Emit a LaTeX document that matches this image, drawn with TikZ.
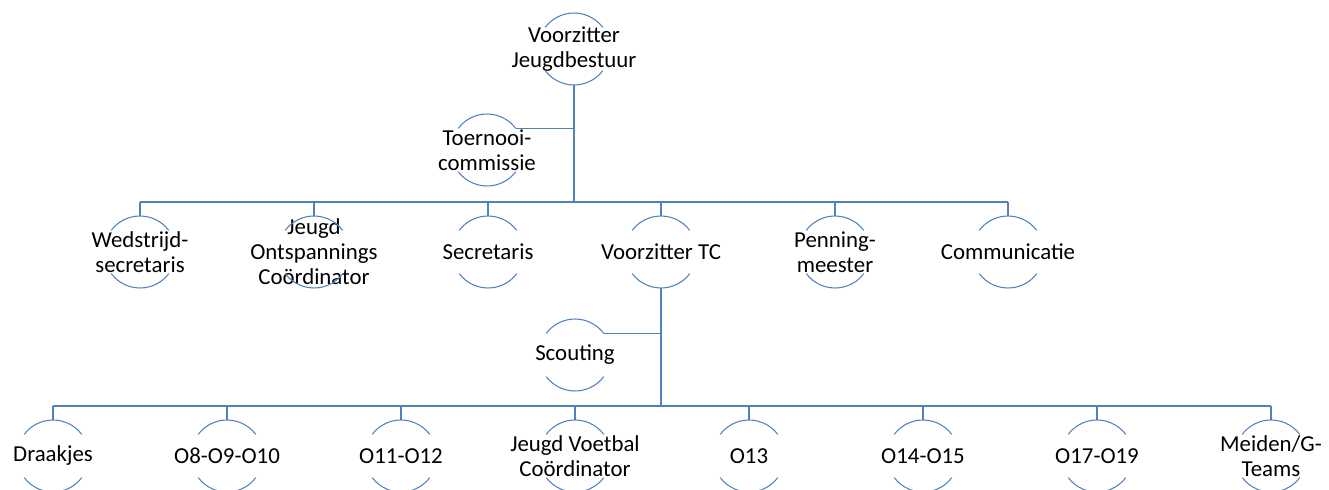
\documentclass[tikz,border=0pt]{standalone}
\usepackage{fontspec}
\setmainfont{Carlito}
\usetikzlibrary{positioning,arrows,calc}
\definecolor{orgblue}{RGB}{79,129,189}
\newcommand{\orgfont}{\fontsize{13}{14.2}\selectfont}

\begin{document}
\begin{tikzpicture}[x=0.02cm,y=0.02cm,
	member/.style={align=center,font=\orgfont,inner sep=0pt},
	link/.style={draw=orgblue,line width=0.7pt},
	trunk/.style={draw=orgblue,line width=1.2pt},
	ring/.style={draw=orgblue,line width=0.6pt}]
	\useasboundingbox (0,0) rectangle (1329,-490);

	\node[member] (vjb) at (574,-49) {Voorzitter\\Jeugdbestuur};
	\node[member] (toern) at (487,-150) {Toernooi-\\commissie};

	\node[member] (wed) at (140,-252) {Wedstrijd-\\secretaris};
	\node[member] (jos) at (314,-252) {Jeugd\\Ontspannings\\Coördinator};
	\node[member] (sec) at (488,-252) {Secretaris};
	\node[member] (vtc) at (661,-252) {Voorzitter TC};
	\node[member] (pen) at (835,-252) {Penning-\\meester};
	\node[member] (com) at (1008,-252) {Communicatie};

	\node[member] (sct) at (575,-355) {Scouting};

	\node[member] (dra) at (53,-456) {Draakjes};
	\node[member] (oten) at (227,-456) {O8-O9-O10};
	\node[member] (otwelve) at (401,-456) {O11-O12};
	\node[member] (jvc) at (575,-456) {Jeugd Voetbal\\Coördinator};
	\node[member] (othirteen) at (749,-456) {O13};
	\node[member] (ofifteen) at (923,-456) {O14-O15};
	\node[member] (onineteen) at (1097,-456) {O17-O19};
	\node[member] (mgt) at (1271,-456) {Meiden/G-\\Teams};

	% the broken circles round the names
	\foreach \n in {vjb,toern,wed,jos,sec,vtc,pen,com,sct,dra,oten,otwelve,jvc,othirteen,ofifteen,onineteen,mgt}{
		\draw[ring] ([shift={(37:0.72cm)}]\n.center) arc (37:143:0.72cm);
		\draw[ring] ([shift={(217:0.72cm)}]\n.center) arc (217:323:0.72cm);
		\coordinate (top\n) at ([shift={(90:0.72cm)}]\n.center);
		\coordinate (bot\n) at ([shift={(270:0.72cm)}]\n.center);
		\coordinate (ne\n) at ([shift={(37:0.72cm)}]\n.center);
	}

	\coordinate (busone) at (574,-202);
	\coordinate (bustwo) at (661,-406);

	\draw[trunk] (botvjb) -- (busone);
	\draw[link] (netoern) -- (netoern -| vjb);
	\draw[link] (busone -| wed) -- (busone -| com);
	\foreach \n in {wed,jos,sec,vtc,pen,com}
		\draw[link] (busone -| \n) -- (top\n);

	\draw[trunk] (botvtc) -- (bustwo);
	\draw[link] (nesct) -- (nesct -| vtc);
	\draw[link] (bustwo -| dra) -- (bustwo -| mgt);
	\foreach \n in {dra,oten,otwelve,jvc,othirteen,ofifteen,onineteen,mgt}
		\draw[link] (bustwo -| \n) -- (top\n);
\end{tikzpicture}
\end{document}
